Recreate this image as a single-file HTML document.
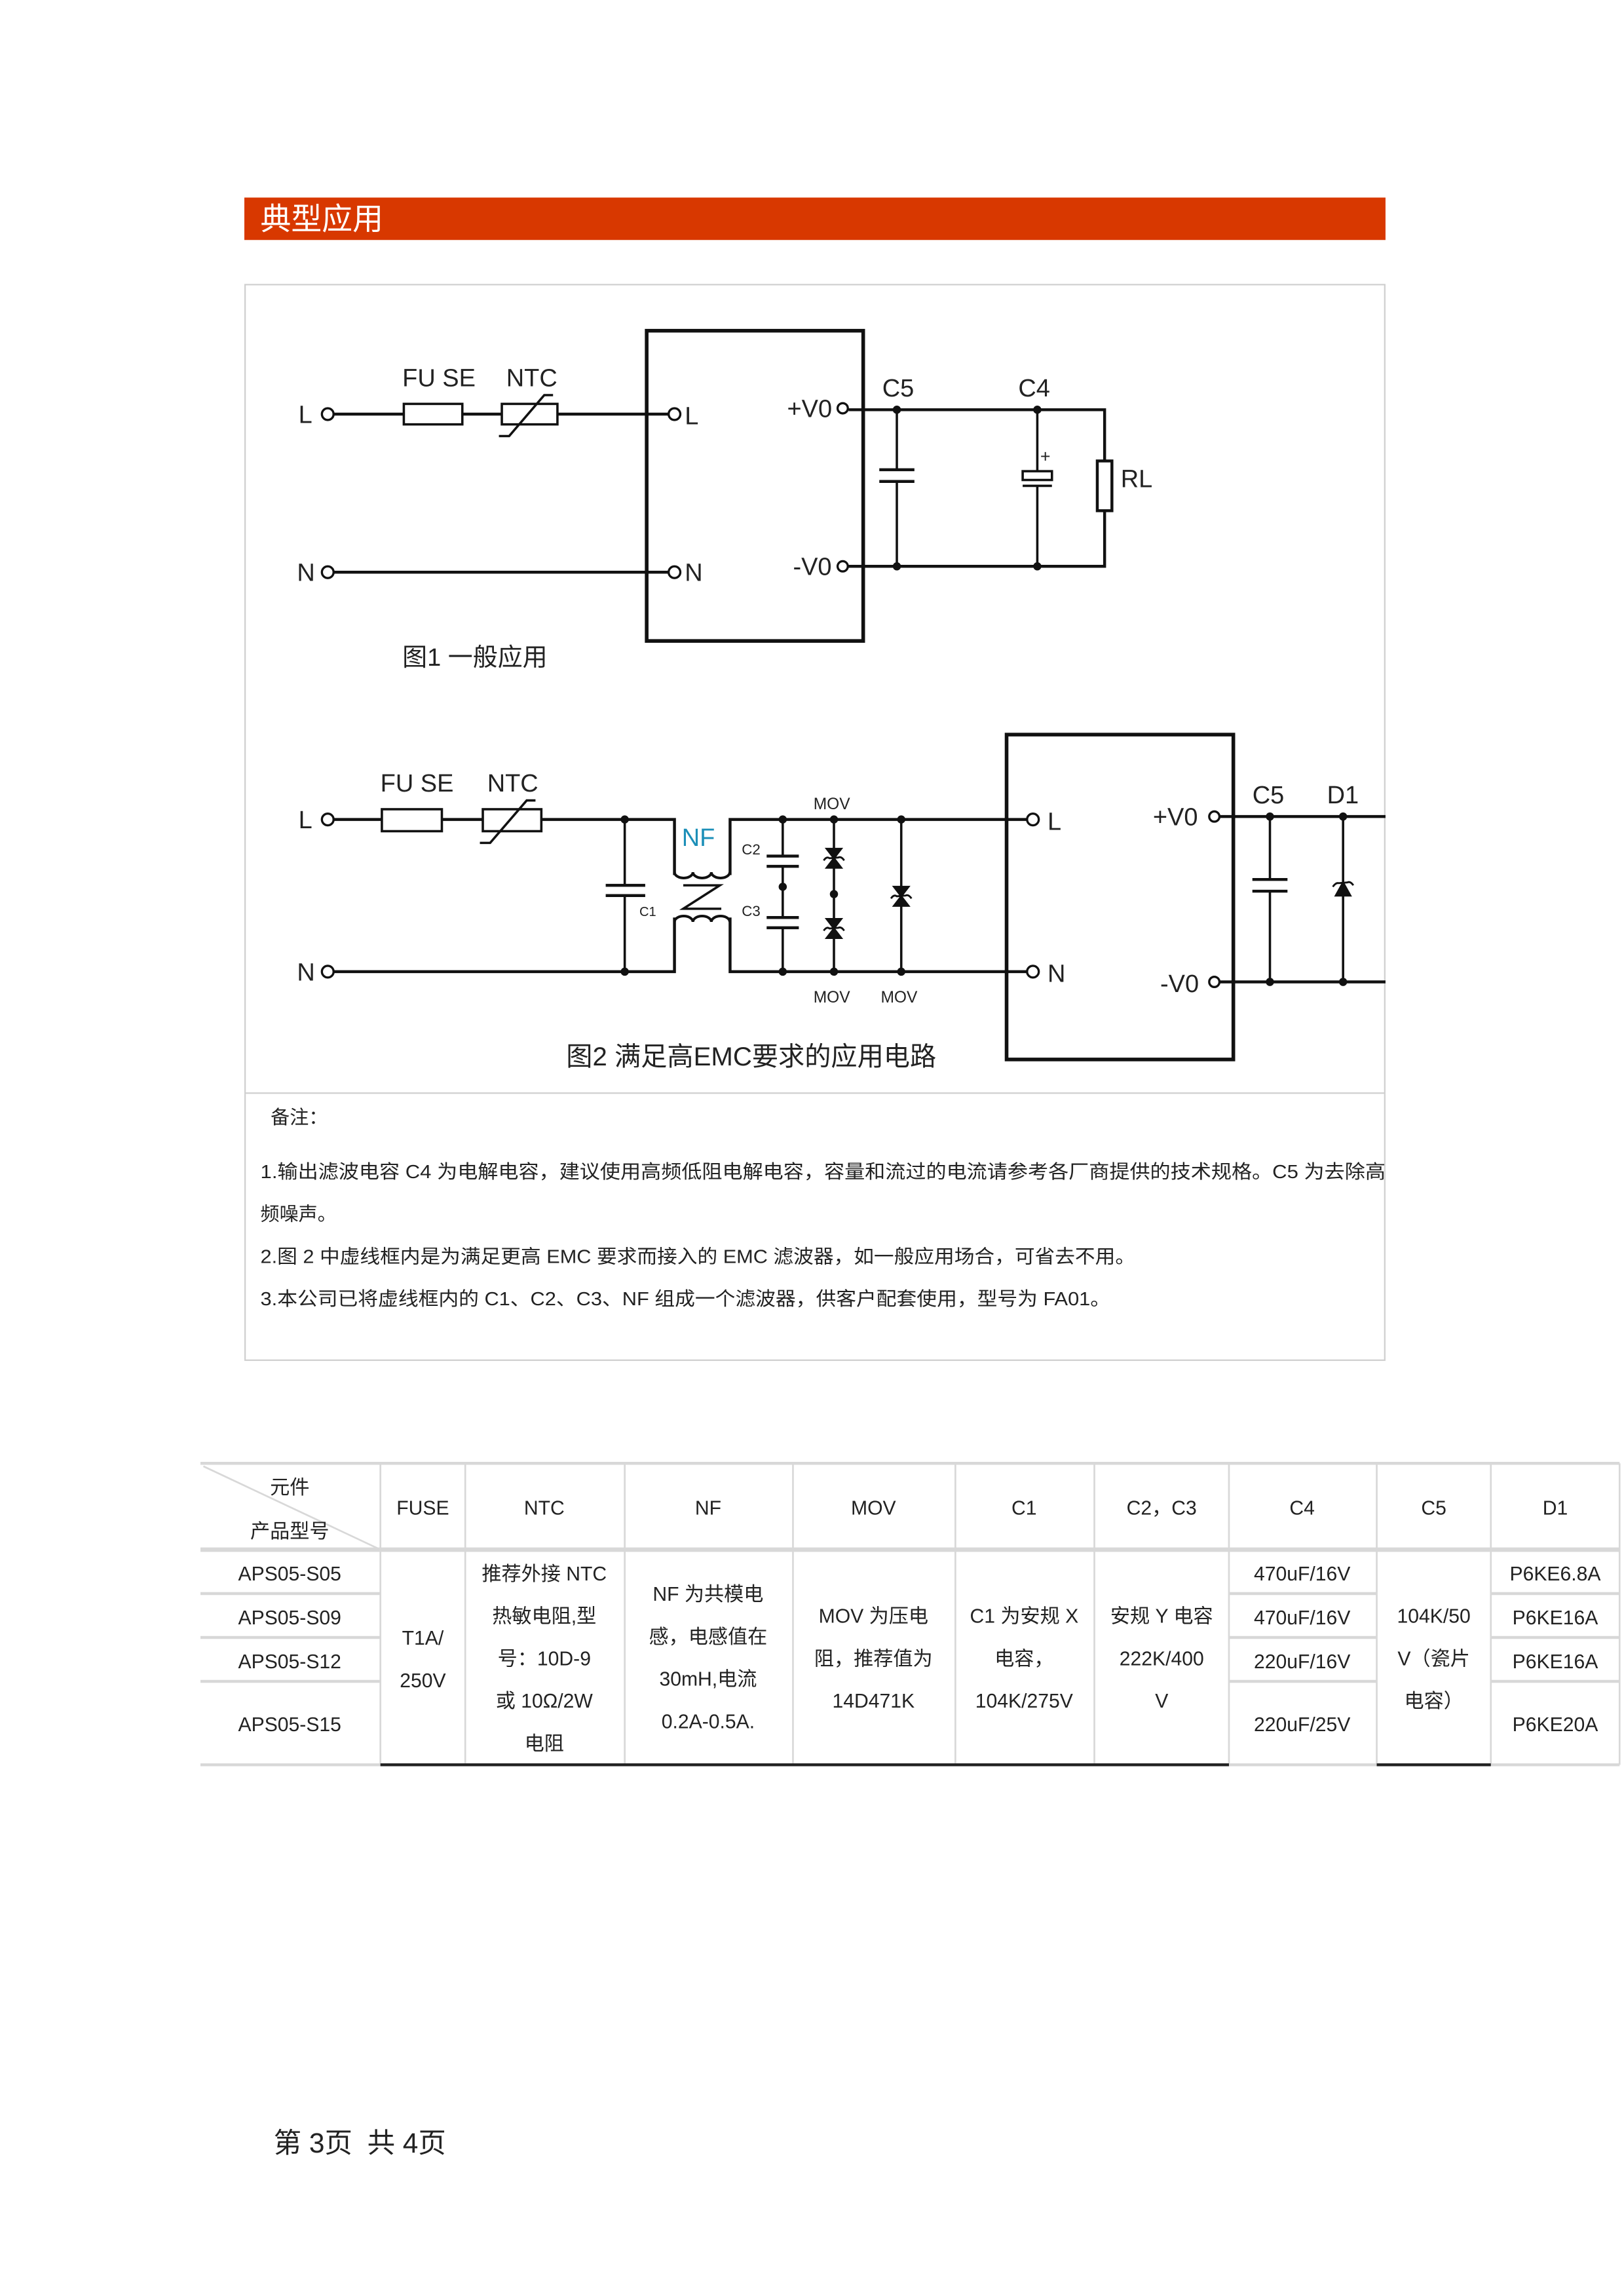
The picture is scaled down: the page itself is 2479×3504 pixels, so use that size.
<!DOCTYPE html>
<html><head><meta charset="utf-8"><style>
html,body{margin:0;padding:0;background:#fff;}
svg{display:block;}
text{font-family:"Liberation Sans","Noto Sans CJK SC",sans-serif;fill:#222;}
</style></head><body>
<svg width="2479" height="3504" viewBox="0 0 1110 1569" xmlns="http://www.w3.org/2000/svg">
<rect width="1110" height="1569" fill="#fff"/>
<!-- header -->
<rect x="167" y="135" width="780" height="29" fill="#d83800"/>
<text x="178" y="157" font-size="21" style="fill:#fff">典型应用</text>
<!-- panel -->
<rect x="167.5" y="194.5" width="779" height="735" fill="none" stroke="#d0d0d0" stroke-width="1"/>
<line x1="167" y1="747" x2="947" y2="747" stroke="#d0d0d0" stroke-width="1"/>

<g stroke="#111" fill="none" stroke-width="2">
<!-- FIG 1 -->
<rect x="442" y="226" width="148" height="212" stroke-width="2.5"/>
<line x1="228" y1="283" x2="457" y2="283"/>
<rect x="276" y="276" width="40" height="14" fill="#fff" stroke-width="1.6"/>
<rect x="343" y="276" width="38" height="14" fill="#fff" stroke-width="1.6"/>
<polyline points="341,298 348,298 372,270 378,270" stroke-width="1.6"/>
<circle cx="224" cy="283" r="4" stroke-width="1.5" fill="#fff"/>
<circle cx="461" cy="283" r="4" stroke-width="1.5" fill="#fff"/>
<line x1="228" y1="391" x2="457" y2="391"/>
<circle cx="224" cy="391" r="4" stroke-width="1.5" fill="#fff"/>
<circle cx="461" cy="391" r="4" stroke-width="1.5" fill="#fff"/>
<circle cx="576" cy="279" r="3.5" stroke-width="1.5" fill="#fff"/>
<circle cx="576" cy="387" r="3.5" stroke-width="1.5" fill="#fff"/>
<polyline points="580,280 755,280 755,387 580,387"/>
<line x1="613" y1="280" x2="613" y2="321" stroke-width="1.6"/>
<line x1="613" y1="329" x2="613" y2="387" stroke-width="1.6"/>
<line x1="601" y1="321" x2="625" y2="321"/>
<line x1="601" y1="329" x2="625" y2="329"/>
<line x1="709" y1="280" x2="709" y2="322" stroke-width="1.6"/>
<line x1="709" y1="332" x2="709" y2="387" stroke-width="1.6"/>
<rect x="699" y="322" width="20" height="6" fill="#fff" stroke-width="1.6"/>
<line x1="699" y1="332" x2="719" y2="332" stroke-width="1.6"/>
<rect x="750" y="315" width="10" height="34" fill="#fff" stroke-width="2"/>
</g>
<g fill="#111">
<circle cx="613" cy="280" r="2.8"/><circle cx="709" cy="280" r="2.8"/>
<circle cx="613" cy="387" r="2.8"/><circle cx="709" cy="387" r="2.8"/>
</g>
<text x="275" y="264" font-size="17">FU SE</text>
<text x="346" y="264" font-size="17">NTC</text>
<text x="204" y="289" font-size="17">L</text>
<text x="468" y="290" font-size="17">L</text>
<text x="203" y="397" font-size="17">N</text>
<text x="468" y="397" font-size="17">N</text>
<text x="538" y="285" font-size="17">+V0</text>
<text x="542" y="393" font-size="17">-V0</text>
<text x="603" y="271" font-size="17">C5</text>
<text x="696" y="271" font-size="17">C4</text>
<text x="711" y="316" font-size="12">+</text>
<text x="766" y="333" font-size="17">RL</text>
<text x="275" y="455" font-size="17">图1 一般应用</text>

<!-- FIG 2 -->
<g stroke="#111" fill="none" stroke-width="2">
<rect x="688" y="502" width="155" height="222" stroke-width="2.5"/>
<polyline points="228,560 461,560 461,598"/>
<polyline points="228,664 461,664 461,627"/>
<polyline points="499,598 499,560 702,560"/>
<polyline points="499,627 499,664 702,664"/>
<path d="M461,596 a6.3,4 0 0 0 12.6,0 a6.3,4 0 0 0 12.6,0 a6.3,4 0 0 0 12.6,0" stroke-width="1.8"/>
<path d="M461,630 a6.3,4 0 0 1 12.6,0 a6.3,4 0 0 1 12.6,0 a6.3,4 0 0 1 12.6,0" stroke-width="1.8"/>
<polyline points="467,605 492,605 467,621 493,621" stroke-width="1.6"/>
<rect x="261" y="553" width="41" height="15" fill="#fff" stroke-width="1.6"/>
<rect x="330" y="553" width="40" height="15" fill="#fff" stroke-width="1.6"/>
<polyline points="328,576 335,576 360,547 366,547" stroke-width="1.6"/>
<circle cx="224" cy="560" r="4" stroke-width="1.5" fill="#fff"/>
<circle cx="224" cy="664" r="4" stroke-width="1.5" fill="#fff"/>
<circle cx="706" cy="560" r="4" stroke-width="1.5" fill="#fff"/>
<circle cx="706" cy="664" r="4" stroke-width="1.5" fill="#fff"/>
<line x1="427" y1="560" x2="427" y2="605" stroke-width="1.6"/>
<line x1="427" y1="612" x2="427" y2="664" stroke-width="1.6"/>
<line x1="414" y1="605" x2="441" y2="605"/><line x1="414" y1="612" x2="441" y2="612"/>
<line x1="535" y1="560" x2="535" y2="585" stroke-width="1.6"/>
<line x1="535" y1="592" x2="535" y2="627" stroke-width="1.6"/>
<line x1="535" y1="634" x2="535" y2="664" stroke-width="1.6"/>
<line x1="524" y1="585" x2="546" y2="585"/><line x1="524" y1="592" x2="546" y2="592"/>
<line x1="524" y1="627" x2="546" y2="627"/><line x1="524" y1="634" x2="546" y2="634"/>
<line x1="570" y1="560" x2="570" y2="664" stroke-width="1.6"/>
<line x1="616" y1="560" x2="616" y2="664" stroke-width="1.6"/>
<circle cx="830" cy="558" r="3.5" stroke-width="1.5" fill="#fff"/>
<circle cx="830" cy="671" r="3.5" stroke-width="1.5" fill="#fff"/>
<line x1="834" y1="558" x2="947" y2="558"/>
<line x1="834" y1="671" x2="947" y2="671"/>
<line x1="868" y1="558" x2="868" y2="601" stroke-width="1.6"/>
<line x1="868" y1="609" x2="868" y2="671" stroke-width="1.6"/>
<line x1="856" y1="601" x2="880" y2="601"/><line x1="856" y1="609" x2="880" y2="609"/>
<line x1="918" y1="558" x2="918" y2="671" stroke-width="1.6"/>
</g>
<g fill="#111" stroke="#111" stroke-width="1.3">
<path d="M565,580 L575,580 L570,586.5Z M565,593 L575,593 L570,586.5Z"/>
<path d="M563,588 q2,-3 4,-1.5 L573,586 q2,-1 4,2" fill="none"/>
<path d="M565,628 L575,628 L570,634.5Z M565,641 L575,641 L570,634.5Z"/>
<path d="M563,636 q2,-3 4,-1.5 L573,634 q2,-1 4,2" fill="none"/>
<path d="M611,606 L621,606 L616,612.5Z M611,619 L621,619 L616,612.5Z"/>
<path d="M609,614 q2,-3 4,-1.5 L619,612 q2,-1 4,2" fill="none"/>
<path d="M913,612 L923,612 L918,603Z"/>
<path d="M911,606 q2,-3 4,-2.5 L921,603 q2,-1 4,2" fill="none"/>
</g>
<g fill="#111">
<circle cx="427" cy="560" r="2.8"/><circle cx="427" cy="664" r="2.8"/>
<circle cx="535" cy="560" r="2.8"/><circle cx="535" cy="606" r="2.8"/><circle cx="535" cy="664" r="2.8"/>
<circle cx="570" cy="560" r="2.8"/><circle cx="570" cy="611" r="2.8"/><circle cx="570" cy="664" r="2.8"/>
<circle cx="616" cy="560" r="2.8"/><circle cx="616" cy="664" r="2.8"/>
<circle cx="868" cy="558" r="2.8"/><circle cx="868" cy="671" r="2.8"/>
<circle cx="918" cy="558" r="2.8"/><circle cx="918" cy="671" r="2.8"/>
</g>
<text x="260" y="541" font-size="17">FU SE</text>
<text x="333" y="541" font-size="17">NTC</text>
<text x="204" y="566" font-size="17">L</text>
<text x="203" y="670" font-size="17">N</text>
<text x="716" y="567" font-size="17">L</text>
<text x="716" y="671" font-size="17">N</text>
<text x="466" y="578" font-size="17" style="fill:#1c8fb8">NF</text>
<text x="437" y="626" font-size="9">C1</text>
<text x="507" y="584" font-size="10">C2</text>
<text x="507" y="626" font-size="10">C3</text>
<text x="556" y="553" font-size="11">MOV</text>
<text x="556" y="685" font-size="11">MOV</text>
<text x="602" y="685" font-size="11">MOV</text>
<text x="788" y="564" font-size="17">+V0</text>
<text x="793" y="678" font-size="17">-V0</text>
<text x="856" y="549" font-size="17">C5</text>
<text x="907" y="549" font-size="17">D1</text>
<text x="387" y="728" font-size="18">图2 满足高EMC要求的应用电路</text>

<g font-size="13">
<text x="185" y="768">备注：</text>
<text x="178" y="805" textLength="769" lengthAdjust="spacingAndGlyphs">1.输出滤波电容 C4 为电解电容，建议使用高频低阻电解电容，容量和流过的电流请参考各厂商提供的技术规格。C5 为去除高</text>
<text x="178" y="834">频噪声。</text>
<text x="178" y="863" textLength="598" lengthAdjust="spacingAndGlyphs">2.图 2 中虚线框内是为满足更高 EMC 要求而接入的 EMC 滤波器，如一般应用场合，可省去不用。</text>
<text x="178" y="892" textLength="581" lengthAdjust="spacingAndGlyphs">3.本公司已将虚线框内的 C1、C2、C3、NF 组成一个滤波器，供客户配套使用，型号为 FA01。</text>
</g>

<g stroke="#d8d8d8" stroke-width="1.2" fill="none">
<line x1="137" y1="1000" x2="1107" y2="1000" stroke-width="2"/>
<line x1="137" y1="1059" x2="1107" y2="1059" stroke-width="3"/>
<line x1="137" y1="1089" x2="260" y2="1089" stroke-width="2"/>
<line x1="137" y1="1119" x2="260" y2="1119" stroke-width="2"/>
<line x1="137" y1="1149" x2="260" y2="1149" stroke-width="2"/>
<line x1="840" y1="1089" x2="941" y2="1089" stroke-width="2"/>
<line x1="840" y1="1119" x2="941" y2="1119" stroke-width="2"/>
<line x1="840" y1="1149" x2="941" y2="1149" stroke-width="2"/>
<line x1="1019" y1="1089" x2="1107" y2="1089" stroke-width="2"/>
<line x1="1019" y1="1119" x2="1107" y2="1119" stroke-width="2"/>
<line x1="1019" y1="1149" x2="1107" y2="1149" stroke-width="2"/>
<line x1="137" y1="1206" x2="1107" y2="1206" stroke-width="2"/>
<line x1="260" y1="1000" x2="260" y2="1206"/><line x1="318" y1="1000" x2="318" y2="1206"/>
<line x1="427" y1="1000" x2="427" y2="1206"/><line x1="542" y1="1000" x2="542" y2="1206"/>
<line x1="653" y1="1000" x2="653" y2="1206"/><line x1="748" y1="1000" x2="748" y2="1206"/>
<line x1="840" y1="1000" x2="840" y2="1206"/><line x1="941" y1="1000" x2="941" y2="1206"/>
<line x1="1019" y1="1000" x2="1019" y2="1206"/><line x1="1107" y1="1000" x2="1107" y2="1206"/>
<line x1="139" y1="1002" x2="258" y2="1058"/>
</g>
<line x1="260" y1="1206" x2="840" y2="1206" stroke="#222" stroke-width="2"/>
<line x1="941" y1="1206" x2="1019" y2="1206" stroke="#222" stroke-width="2"/>
<g font-size="13.5" text-anchor="middle">
<text x="198" y="1021">元件</text>
<text x="198" y="1051">产品型号</text>
<text x="289" y="1035">FUSE</text>
<text x="372" y="1035">NTC</text>
<text x="484" y="1035">NF</text>
<text x="597" y="1035">MOV</text>
<text x="700" y="1035">C1</text>
<text x="794" y="1035">C2，C3</text>
<text x="890" y="1035">C4</text>
<text x="980" y="1035">C5</text>
<text x="1063" y="1035">D1</text>
<text x="198" y="1080">APS05-S05</text>
<text x="198" y="1110">APS05-S09</text>
<text x="198" y="1140">APS05-S12</text>
<text x="198" y="1183">APS05-S15</text>
<text x="289" y="1124">T1A/</text>
<text x="289" y="1153">250V</text>
<text x="372" y="1080">推荐外接 NTC</text>
<text x="372" y="1109">热敏电阻,型</text>
<text x="372" y="1138">号：10D-9</text>
<text x="372" y="1167">或 10Ω/2W</text>
<text x="372" y="1196">电阻</text>
<text x="484" y="1094">NF 为共模电</text>
<text x="484" y="1123">感，电感值在</text>
<text x="484" y="1152">30mH,电流</text>
<text x="484" y="1181">0.2A-0.5A.</text>
<text x="597" y="1109">MOV 为压电</text>
<text x="597" y="1138">阻，推荐值为</text>
<text x="597" y="1167">14D471K</text>
<text x="700" y="1109">C1 为安规 X</text>
<text x="700" y="1138">电容，</text>
<text x="700" y="1167">104K/275V</text>
<text x="794" y="1109">安规 Y 电容</text>
<text x="794" y="1138">222K/400</text>
<text x="794" y="1167">V</text>
<text x="890" y="1080">470uF/16V</text>
<text x="890" y="1110">470uF/16V</text>
<text x="890" y="1140">220uF/16V</text>
<text x="890" y="1183">220uF/25V</text>
<text x="980" y="1109">104K/50</text>
<text x="980" y="1138">V（瓷片</text>
<text x="980" y="1167">电容）</text>
<text x="1063" y="1080">P6KE6.8A</text>
<text x="1063" y="1110">P6KE16A</text>
<text x="1063" y="1140">P6KE16A</text>
<text x="1063" y="1183">P6KE20A</text>
</g>
<g font-size="19" style="font-family:'Liberation Serif','Noto Serif CJK SC',serif">
<text x="187" y="1471">第 3页</text>
<text x="251" y="1471">共 4页</text>
</g>
</svg>
</body></html>
